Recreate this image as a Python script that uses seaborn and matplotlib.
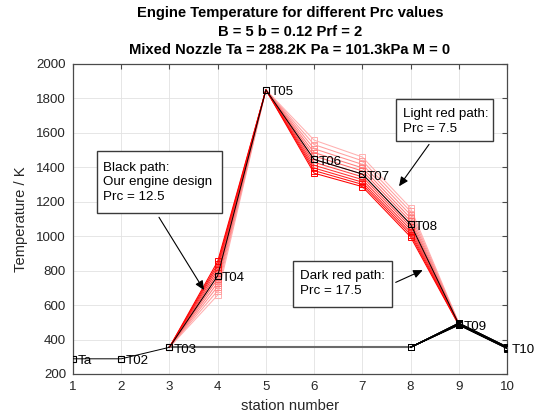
import matplotlib
matplotlib.use("Agg")
import matplotlib.pyplot as plt
import seaborn as sns
from matplotlib.patches import Rectangle

# ---------------- data ----------------
stations = [1, 2, 3, 4, 5, 6, 7, 8, 9, 10]
station_names = ["Ta", "T02", "T03", "T04", "T05", "T06", "T07", "T08", "T09", "T10"]
prc_values = [7.5, 8.5, 9.5, 10.5, 11.5, 12.5, 13.5, 14.5, 15.5, 16.5, 17.5]
design_index = 5  # Prc = 12.5

Ta = 288.2
T02 = 288.2
T03 = 355.0
T05 = 1850.0
T04 = [658, 684, 708, 730, 751, 770, 788, 806, 823, 838, 854]
T06 = [1558, 1532, 1508, 1486, 1466, 1446, 1429, 1412, 1396, 1381, 1366]
T07 = [1460, 1438, 1417, 1397, 1379, 1361, 1345, 1329, 1314, 1301, 1288]
T08 = [1164, 1144, 1124, 1105, 1087, 1070, 1055, 1039, 1024, 1010, 996]
T09 = [496, 495, 494, 492, 491, 490, 489, 488, 487, 486, 484]
T10 = [358, 357, 356, 355, 354, 353, 352, 351, 350, 349, 348]
bypass_stations = [3, 8]

title_lines = ["Engine Temperature for different Prc values",
               "B = 5 b = 0.12 Prf = 2",
               "Mixed Nozzle Ta = 288.2K Pa = 101.3kPa M = 0"]
box_black = "Black path:\nOur engine design\nPrc = 12.5"
box_light = "Light red path:\nPrc = 7.5"
box_dark = "Dark red path:\nPrc = 17.5"

# ---------------- style ----------------
sns.set_theme(style="white")
plt.rcParams["font.family"] = ["Liberation Sans", "DejaVu Sans"]
axis_col = "#4a4a4a"
txt_col = "#262626"

fig = plt.figure(figsize=(5.6, 4.2), dpi=100)
ax = fig.add_axes([73 / 560, 1 - 374 / 420, 434 / 560, 310 / 420])

reds = sns.blend_palette(["#ffb0b0", "#ff0000"], n_colors=len(prc_values))

# red core paths (station 3 .. 9)
for i, prc in enumerate(prc_values):
    core_st = stations[2:9]
    core_T = [T03, T04[i], T05, T06[i], T07[i], T08[i], T09[i]]
    sns.lineplot(x=core_st, y=core_T, color=reds[i], marker="s", ms=4.5,
                 mfc="none", mec=reds[i], mew=0.7, lw=0.75, ax=ax,
                 sort=False, estimator=None, zorder=2, legend=False)

# bypass duct (common) 3 -> 8
sns.lineplot(x=bypass_stations, y=[T03, T03], color="#6a6a6a", lw=1.5, ax=ax,
             sort=False, estimator=None, zorder=1.5, legend=False)

# mixed stream 8 -> 9 -> 10 for each Prc
for i, prc in enumerate(prc_values):
    sns.lineplot(x=[bypass_stations[1], 9, 10], y=[T03, T09[i], T10[i]],
                 color="black", marker="s", ms=5, mfc="none", mec="black",
                 mew=0.7, lw=0.8, ax=ax, sort=False, estimator=None,
                 zorder=3, legend=False)

# design (black) path
d = design_index
design_T = [Ta, T02, T03, T04[d], T05, T06[d], T07[d], T08[d], T09[d], T10[d]]
sns.lineplot(x=stations, y=design_T, color="black", marker="s", ms=5,
             mfc="none", mec="black", mew=0.8, lw=0.7, ax=ax, sort=False,
             estimator=None, zorder=4, legend=False)

for s, name, t in zip(stations, station_names, design_T):
    ax.annotate(name, (s, t), xytext=(3.2, -1.8), textcoords="offset points",
                ha="left", va="center", fontsize=9.6, color="black",
                annotation_clip=False, zorder=6)

# ---------------- annotation boxes ----------------
def add_box(x0, x1, y0, y1, tx, ty, text):
    ax.add_patch(Rectangle((x0, y0), x1 - x0, y1 - y0, facecolor="white",
                           edgecolor="#3a3a3a", lw=1.0, zorder=7))
    ax.text(tx, ty, text, ha="left", va="center", fontsize=9.6,
            linespacing=1.3, color="black", zorder=8)

add_box(1.498, 4.09, 1133, 1493, 1.628, 1313, box_black)
add_box(7.698, 9.71, 1551, 1794, 7.837, 1665, box_light)
add_box(5.556, 7.616, 590, 857, 5.708, 726, box_dark)

arrow_kw = dict(arrowstyle="-|>,head_length=0.55,head_width=0.25",
                color="black", lw=0.8, shrinkA=0, shrinkB=0,
                mutation_scale=10)
ax.annotate("", xy=(3.717, 687), xytext=(2.783, 1110), arrowprops=arrow_kw, zorder=7)
ax.annotate("", xy=(7.761, 1290), xytext=(8.383, 1533), arrowprops=arrow_kw, zorder=7)
ax.annotate("", xy=(8.252, 803), xytext=(7.692, 732), arrowprops=arrow_kw, zorder=7)

# ---------------- axes ----------------
ax.set_xlim(1, 10)
ax.set_ylim(200, 2000)
ax.set_xticks(stations)
ax.set_yticks(range(200, 2001, 200))
ax.grid(True, color="#e2e2e2", lw=0.6)
ax.set_axisbelow(True)
for sp in ax.spines.values():
    sp.set_visible(True)
    sp.set_color(axis_col)
    sp.set_linewidth(0.9)
ax.tick_params(direction="in", length=3.5, width=0.8, color=axis_col,
               top=True, right=True, labelsize=9.6, labelcolor=txt_col, pad=5)
ax.set_xlabel("station number", fontsize=10.6, color=txt_col, labelpad=4)
ax.set_ylabel("Temperature / K", fontsize=10.6, color=txt_col, labelpad=6)
ax.set_title("\n".join(title_lines), fontsize=10.6, fontweight="bold",
             color="black", linespacing=1.42, pad=7)

fig.savefig("out.png", dpi=100)
